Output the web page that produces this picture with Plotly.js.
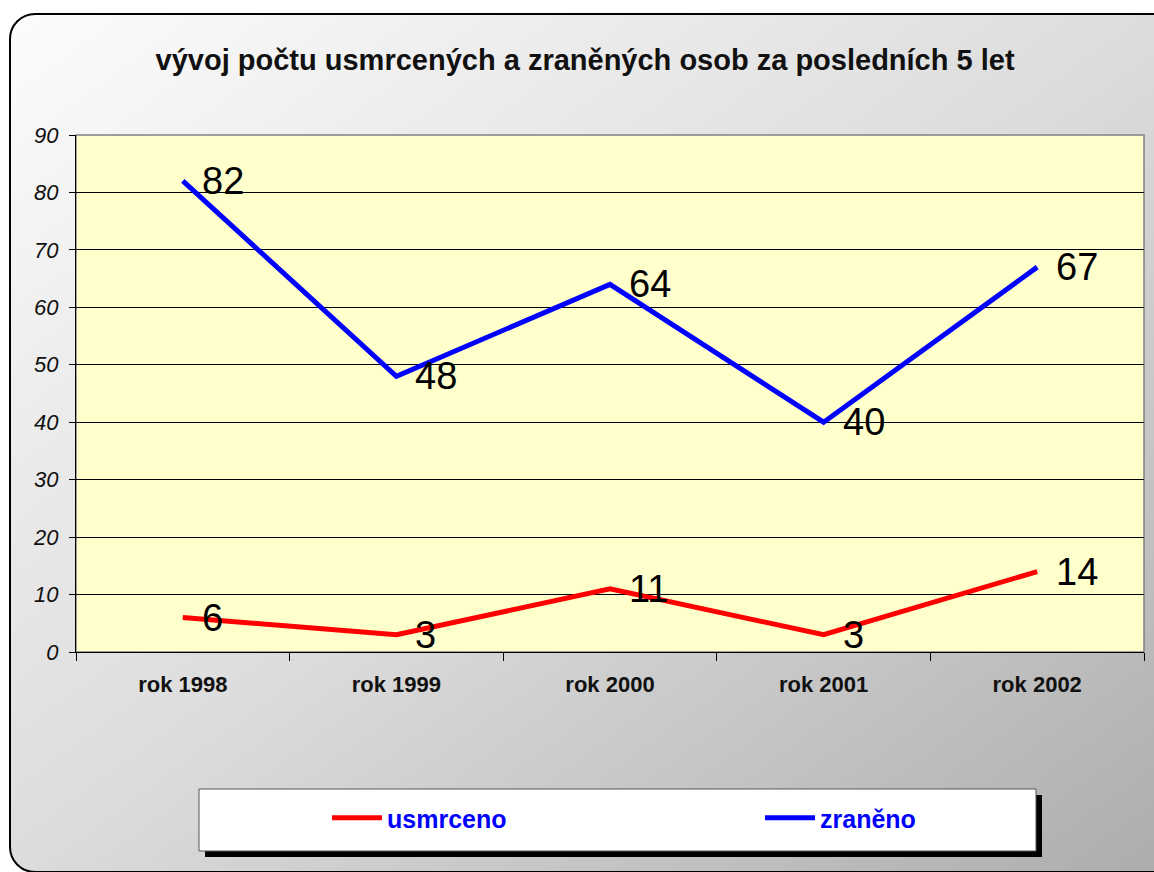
<!DOCTYPE html>
<html>
<head>
<meta charset="utf-8">
<script src="https://cdn.plot.ly/plotly-3.0.1.min.js"></script>
<style>
  html, body { margin: 0; padding: 0; background: #ffffff; overflow: hidden; }
  #wrap { position: relative; width: 1154px; height: 872px; }
  #frame {
    position: absolute; left: 9px; top: 13px; width: 1170px; height: 856px;
    border: 2px solid #000; border-radius: 26px;
    background: linear-gradient(to bottom right, #fcfcfc 0%, #dcdcdc 50%, #acacac 100%);
  }
  #chart { position: absolute; left: 0; top: 0; width: 1154px; height: 872px; }
</style>
</head>
<body>
<div id="wrap">
  <div id="frame"></div>
  <div id="chart"></div>
</div>
<script>
const categories = ['rok 1998', 'rok 1999', 'rok 2000', 'rok 2001', 'rok 2002'];
const usmrceno = [6, 3, 11, 3, 14];
const zraneno = [82, 48, 64, 40, 67];
const seriesNames = ['usmrceno', 'zraněno'];
const yTickVals = [0, 10, 20, 30, 40, 50, 60, 70, 80, 90];
const yTickText = yTickVals.map(v => '<i>' + v + '</i>');
const titleText = 'vývoj počtu usmrcených a zraněných osob za posledních 5 let';

const W = 1154, H = 872;
const L = 76, R = 1144, T = 135, B = 652;
const fx = p => (p - L) / (R - L);
const fy = p => (B - p) / (B - T);
const FONT = 'Arial, "Liberation Sans", sans-serif';

const traces = [
  { x: categories, y: usmrceno, name: seriesNames[0], type: 'scatter', mode: 'lines',
    line: { color: '#ff0000', width: 5 }, hoverinfo: 'skip', legend: 'legend' },
  { x: categories, y: zraneno, name: seriesNames[1], type: 'scatter', mode: 'lines',
    line: { color: '#0000ff', width: 5 }, hoverinfo: 'skip', legend: 'legend2' }
];

const annotations = [];
[usmrceno, zraneno].forEach(vals => {
  vals.forEach((v, i) => {
    annotations.push({
      x: categories[i], y: v, xref: 'x', yref: 'y', text: String(v),
      showarrow: false, xanchor: 'left', yanchor: 'middle', xshift: 17, yshift: 0,
      font: { family: FONT, size: 38, color: '#000' }
    });
  });
});

const shapes = [
  { type: 'rect', xref: 'paper', yref: 'paper', x0: 0, x1: 1, y0: 0, y1: 1,
    line: { color: '#808080', width: 1.5 }, fillcolor: 'rgba(0,0,0,0)', layer: 'below' },
  { type: 'rect', xref: 'paper', yref: 'paper', x0: fx(205), x1: fx(1042), y0: fy(795), y1: fy(857),
    line: { width: 0 }, fillcolor: '#000000', layer: 'below' },
  { type: 'rect', xref: 'paper', yref: 'paper', x0: fx(199), x1: fx(1036), y0: fy(789), y1: fy(851),
    line: { color: '#555555', width: 1 }, fillcolor: '#ffffff', layer: 'below' }
];

const legendFont = { family: FONT, size: 25, color: '#0000ff', weight: 'bold' };
const legendBase = {
  orientation: 'h', xanchor: 'left', yanchor: 'middle',
  bgcolor: 'rgba(0,0,0,0)', borderwidth: 0, itemwidth: 50, font: legendFont
};

const layout = {
  width: W, height: H,
  margin: { l: L, r: W - R, t: T, b: H - B, pad: 0 },
  paper_bgcolor: 'rgba(0,0,0,0)',
  plot_bgcolor: '#ffffcc',
  font: { family: FONT, color: '#000' },
  title: { text: '<b>' + titleText + '</b>', x: 0.507, xanchor: 'center', y: 0.931, yanchor: 'middle',
    font: { family: FONT, size: 29, color: '#111' } },
  showlegend: true,
  legend: Object.assign({}, legendBase, { x: fx(327), y: fy(818) }),
  legend2: Object.assign({}, legendBase, { x: fx(760), y: fy(818) }),
  xaxis: {
    type: 'category', range: [-0.5, 4.5], tickson: 'boundaries',
    ticks: 'outside', ticklen: 8, tickcolor: '#000', tickwidth: 1,
    showline: true, linecolor: '#000', linewidth: 1,
    showgrid: false, zeroline: false, fixedrange: true,
    ticklabelstandoff: 13,
    tickfont: { family: FONT, size: 22, color: '#111', weight: 'bold' }
  },
  yaxis: {
    range: [0, 90], tickmode: 'array', tickvals: yTickVals, ticktext: yTickText,
    ticks: 'outside', ticklen: 6, tickcolor: '#000', tickwidth: 1,
    showline: true, linecolor: '#000', linewidth: 1,
    showgrid: true, gridcolor: '#000', gridwidth: 1, zeroline: false, fixedrange: true,
    ticklabelstandoff: 6,
    tickfont: { family: FONT, size: 22, color: '#111', style: 'italic' }
  },
  shapes: shapes,
  annotations: annotations
};

Plotly.newPlot('chart', traces, layout, { displayModeBar: false, staticPlot: true });
</script>
</body>
</html>
